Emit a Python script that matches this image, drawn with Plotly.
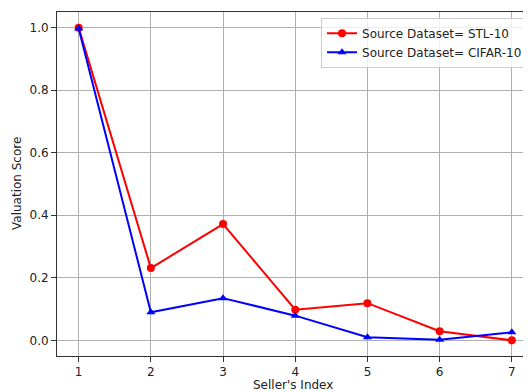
import plotly.graph_objects as go

sellers = [1, 2, 3, 4, 5, 6, 7]
stl10 = [1.0, 0.231, 0.372, 0.098, 0.119, 0.029, 0.0]
cifar10 = [0.997, 0.090, 0.135, 0.079, 0.010, 0.002, 0.026]
series_names = ["Source Dataset= STL-10", "Source Dataset= CIFAR-10"]
y_ticks = [0.0, 0.2, 0.4, 0.6, 0.8, 1.0]

fig = go.Figure()
fig.add_trace(go.Scatter(x=sellers, y=stl10, mode="lines+markers", name=series_names[0],
                         line=dict(color="#ff0000", width=2),
                         marker=dict(symbol="circle", size=8, color="#ff0000")))
fig.add_trace(go.Scatter(x=sellers, y=cifar10, mode="lines+markers", name=series_names[1],
                         line=dict(color="#0000ff", width=2),
                         marker=dict(symbol="triangle-up", size=8, color="#0000ff")))

txt = dict(family="DejaVu Sans", size=12, color="#222222")
# page body has an 8px default margin; figure sized to fill the remaining window
fig.update_layout(
    width=523, height=384,
    margin=dict(l=49, r=0, t=4, b=36, autoexpand=False),
    paper_bgcolor="white", plot_bgcolor="white",
    font=txt,
    showlegend=True,
    legend=dict(x=0.557, y=0.983, xanchor="left", yanchor="top",
                bgcolor="rgba(255,255,255,0.8)", bordercolor="#cccccc", borderwidth=1,
                font=txt, itemwidth=30, tracegroupgap=0),
    xaxis=dict(range=[0.7, 7.265], tickvals=sellers, ticktext=[str(s) for s in sellers],
               showgrid=True, gridcolor="#b0b0b0", gridwidth=1, automargin=False,
               showline=True, linecolor="#333333", linewidth=1, mirror=True,
               ticks="outside", ticklen=5, tickcolor="#333333", zeroline=False),
    yaxis=dict(range=[-0.05, 1.05], tickvals=y_ticks, ticktext=[f"{v:.1f}" for v in y_ticks],
               showgrid=True, gridcolor="#b0b0b0", gridwidth=1, automargin=False,
               showline=True, linecolor="#333333", linewidth=1, mirror=False,
               ticks="outside", ticklen=5, tickcolor="#333333", zeroline=False),
    annotations=[
        dict(text="Seller's Index", xref="paper", yref="paper", x=0.498, y=0,
             yshift=-29, xanchor="center", yanchor="middle", showarrow=False, font=txt),
        dict(text="Valuation Score", xref="paper", yref="paper", x=0, y=0.5,
             xshift=-40, xanchor="center", yanchor="middle", textangle=-90,
             showarrow=False, font=txt),
    ],
)

fig.write_html("out.html")
